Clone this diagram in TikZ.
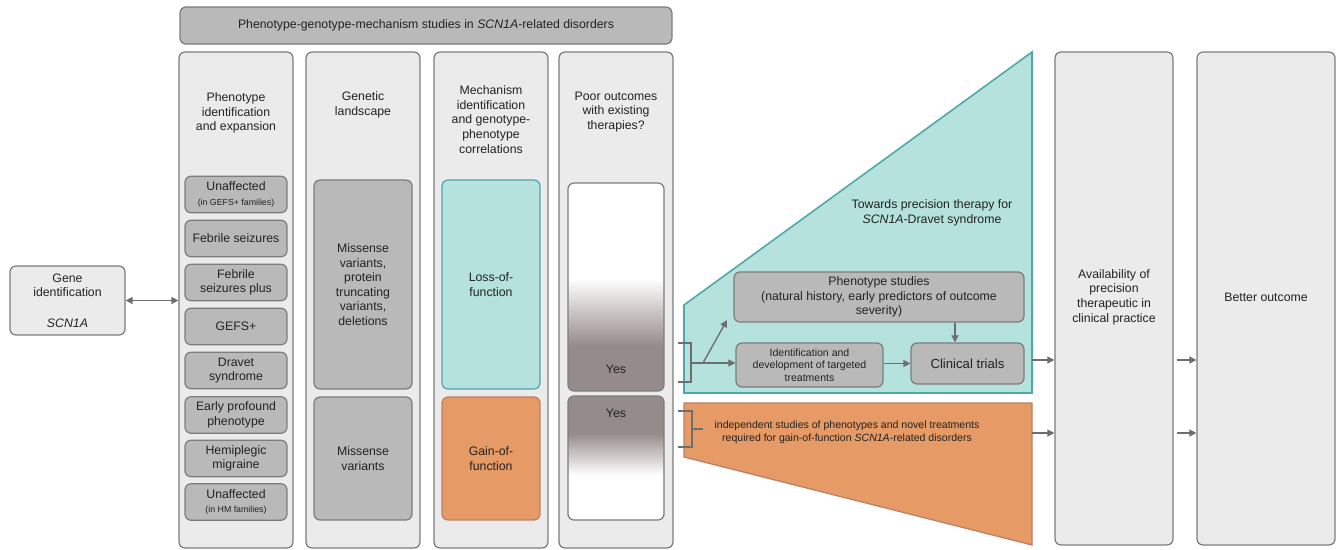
\documentclass[tikz,border=0pt]{standalone}
\usepackage{fontspec}
\setmainfont{Liberation Sans}
\usetikzlibrary{arrows.meta}

\definecolor{colbg}{HTML}{EBEBEB}
\definecolor{colline}{HTML}{7C7C7C}
\definecolor{subfill}{HTML}{B9B9B9}
\definecolor{tealfill}{HTML}{B6E2DD}
\definecolor{tealline}{HTML}{4FA7AB}
\definecolor{orangefill}{HTML}{E69A65}
\definecolor{orangeline}{HTML}{B98067}
\definecolor{yesgray}{HTML}{968B8B}
\definecolor{arrc}{HTML}{6E6E6E}
\definecolor{txtc}{HTML}{222222}

% 渐变 (Yes)
\pgfdeclareverticalshading{yesdown}{100bp}{color(0bp)=(yesgray); color(36bp)=(yesgray); color(52bp)=(white); color(100bp)=(white)}
\pgfdeclareverticalshading{yesup}{100bp}{color(0bp)=(white); color(43bp)=(white); color(60bp)=(yesgray); color(100bp)=(yesgray)}

\tikzset{
  txt/.style={font=\fontsize{7}{8.3}\selectfont, text=txtc, align=center, inner sep=0pt},
  small/.style={font=\fontsize{6}{7.2}\selectfont, text=txtc, align=center, inner sep=0pt},
  col/.style={draw=colline, fill=colbg, line width=0.7pt, rounded corners=0.12cm},
  sub/.style={draw=colline, fill=subfill, line width=0.7pt, rounded corners=0.12cm, txt},
  arr/.style={draw=arrc, line width=0.8pt, -{Triangle[length=4pt,width=4pt]}},
  bracket/.style={draw=arrc, line width=0.8pt}
}

\newcommand{\tinytxt}[1]{{\fontsize{5}{6}\selectfont #1}}

\begin{document}
\begin{tikzpicture}[x=0.02cm, y=-0.02cm]
    \useasboundingbox (0,0) rectangle (1340,549);

    % 顶部标题
    \node[sub, minimum width=9.84cm, minimum height=0.74cm] (banner) at (426,25.5)
        {Phenotype-genotype-mechanism studies in \textit{SCN1A}-related disorders};

    % 基因识别
    \node[col, txt, minimum width=2.30cm, minimum height=1.38cm] (gene) at (67.5,300.5)
        {Gene\\identification\\[9pt]\textit{SCN1A}};

    % 四列
    \node[col, minimum width=2.28cm, minimum height=9.92cm] (c1) at (236,300) {};
    \node[col, minimum width=2.28cm, minimum height=9.92cm] (c2) at (363,300) {};
    \node[col, minimum width=2.28cm, minimum height=9.92cm] (c3) at (491,300) {};
    \node[col, minimum width=2.28cm, minimum height=9.92cm] (c4) at (616,300) {};

    \node[txt] (t1) at (236,113) {Phenotype\\identification\\and expansion};
    \node[txt] (t2) at (363,105) {Genetic\\landscape};
    \node[txt] (t3) at (491,119.5) {Mechanism\\identification\\and genotype-\\phenotype\\correlations};
    \node[txt] (t4) at (616,112) {Poor outcomes\\with existing\\therapies?};

    % 表型
    \node[sub, minimum width=2.04cm, minimum height=0.73cm] (p1) at (236,194.5) {Unaffected\\\tinytxt{(in GEFS+ families)}};
    \node[sub, minimum width=2.04cm, minimum height=0.73cm] (p2) at (236,238.5) {Febrile seizures};
    \node[sub, minimum width=2.04cm, minimum height=0.73cm] (p3) at (236,282.5) {Febrile\\seizures plus};
    \node[sub, minimum width=2.04cm, minimum height=0.73cm] (p4) at (236,326.5) {GEFS+};
    \node[sub, minimum width=2.04cm, minimum height=0.73cm] (p5) at (236,370.5) {Dravet\\syndrome};
    \node[sub, minimum width=2.04cm, minimum height=0.73cm] (p6) at (236,415) {Early profound\\phenotype};
    \node[sub, minimum width=2.04cm, minimum height=0.73cm] (p7) at (236,458.5) {Hemiplegic\\migraine};
    \node[sub, minimum width=2.04cm, minimum height=0.73cm] (p8) at (236,502) {Unaffected\\\tinytxt{(in HM families)}};

    % 遗传
    \node[sub, minimum width=1.96cm, minimum height=4.18cm] (g1) at (363,284.5)
        {Missense\\variants,\\protein\\truncating\\variants,\\deletions};
    \node[sub, minimum width=1.96cm, minimum height=2.46cm] (g2) at (363,458.5) {Missense\\variants};

    % 机制
    \node[sub, draw=tealline, fill=tealfill, minimum width=1.96cm, minimum height=4.18cm] (m1) at (491,284.5) {Loss-of-\\function};
    \node[sub, draw=orangeline, fill=orangefill, minimum width=1.96cm, minimum height=2.46cm] (m2) at (491,458.5) {Gain-of-\\function};

    % 结果
    \node[sub, shading=yesdown, minimum width=1.92cm, minimum height=4.16cm] (y1) at (616,287) {};
    \node[sub, shading=yesup, minimum width=1.92cm, minimum height=2.48cm] (y2) at (616,458) {};
    \node[txt] (yes1) at (616,369) {Yes};
    \node[txt] (yes2) at (616,413) {Yes};

    % 多边形
    \coordinate (tA) at (684,305);
    \coordinate (tB) at (1032,52);
    \coordinate (tC) at (1032,393);
    \coordinate (tD) at (684,393);
    \draw[draw=tealline, fill=tealfill, line width=0.9pt] (tA) -- (tB) -- (tC) -- (tD) -- cycle;
    \coordinate (oA) at (684,403);
    \coordinate (oB) at (1032,403);
    \coordinate (oC) at (1032,545);
    \coordinate (oD) at (684,457);
    \draw[draw=orangeline, fill=orangefill, line width=0.7pt] (oA) -- (oB) -- (oC) -- (oD) -- cycle;

    \node[txt] (toward) at (932,213) {Towards precision therapy for\\\textit{SCN1A}-Dravet syndrome};
    \node[small] (gof) at (847,432.5) {independent studies of phenotypes and novel treatments\\required for gain-of-function \textit{SCN1A}-related disorders};

    \node[sub, minimum width=5.8cm, minimum height=1.0cm] (pheno) at (879,297)
        {Phenotype studies\\(natural history, early predictors of outcome\\severity)};
    \node[sub, small, minimum width=2.94cm, minimum height=0.88cm] (ident) at (809.5,365)
        {Identification and\\development of targeted\\treatments};
    \node[sub, font=\fontsize{7.5}{9}\selectfont, minimum width=2.26cm, minimum height=0.82cm] (trials) at (967.5,363.5) {Clinical trials};

    % 括号
    \draw[bracket] (678,343) -| (691,382) -- (678,382);
    \coordinate (bkM) at (691,363);
    \coordinate (bkS) at (703,363);
    \coordinate (brEnd) at (727,320);
    \draw[arr] (bkM) -- (bkM -| ident.west);
    \draw[arr] (bkS) -- (brEnd);
    \draw[arr] (ident.east |- trials.west) -- (trials.west);
    \draw[arr] ([xshift=-0.25cm]trials.north |- pheno.south) -- ([xshift=-0.25cm]trials.north);

    \draw[bracket] (678,411) -| (692,447) -- (678,447);
    \coordinate (bkO) at (692,429);
    \coordinate (bkOend) at (703,429);
    \draw[bracket] (bkO) -- (bkOend);

    % 右侧两列
    \node[col, minimum width=2.36cm, minimum height=9.86cm] (c5) at (1114,298.5) {};
    \node[col, minimum width=2.76cm, minimum height=9.86cm] (c6) at (1266,298.5) {};
    \node[txt] (t5) at (1114,297) {Availability of\\precision\\therapeutic in\\clinical practice};
    \node[txt] (t6) at (1266,297) {Better outcome};

    % 箭头
    \draw[arr, {Triangle[length=4pt,width=4pt]}-{Triangle[length=4pt,width=4pt]}] (gene.east) -- (gene.east -| c1.west);
    \coordinate (lvA) at (1032,360);
    \coordinate (lvB) at (1032,433);
    \draw[arr] (lvA) -- (lvA -| c5.west);
    \draw[arr] (lvB) -- (lvB -| c5.west);
    \draw[arr] ([xshift=0.06cm]c5.east |- lvA) -- (c6.west |- lvA);
    \draw[arr] ([xshift=0.06cm]c5.east |- lvB) -- (c6.west |- lvB);

\end{tikzpicture}
\end{document}
